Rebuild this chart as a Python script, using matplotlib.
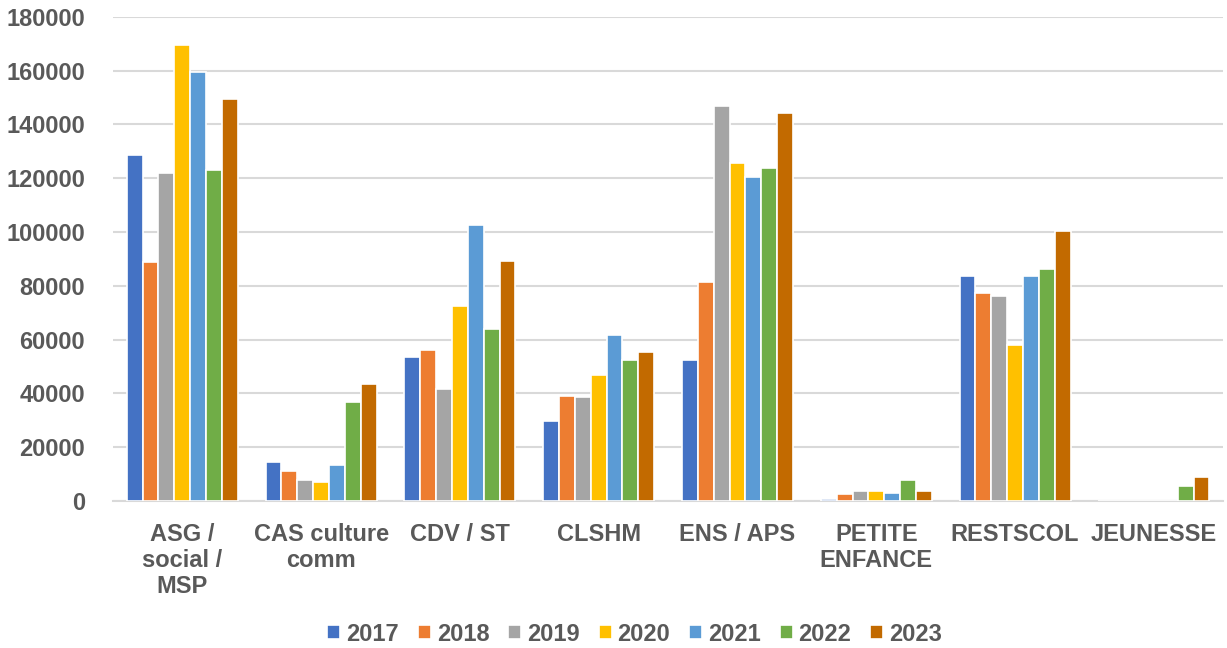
#!/usr/bin/env python3
"""
Histogramme groupé par service, années 2017-2023
"""
import numpy as np
import matplotlib.pyplot as plt

plt.rcParams['font.family'] = ['Liberation Sans', 'DejaVu Sans']
plt.rcParams['font.weight'] = 'bold'

categories = ['ASG /\nsocial /\nMSP', 'CAS culture\ncomm', 'CDV / ST', 'CLSHM',
              'ENS / APS', 'PETITE\nENFANCE', 'RESTSCOL', 'JEUNESSE']
years = ['2017', '2018', '2019', '2020', '2021', '2022', '2023']

v2017 = [128600, 14500, 53500, 29700, 52400, 700, 83700, 0]
v2018 = [88900, 11200, 56200, 39000, 81400, 2600, 77300, 0]
v2019 = [122000, 7800, 41600, 38700, 146900, 3500, 76200, 0]
v2020 = [169600, 7000, 72500, 46900, 125700, 3700, 58000, 0]
v2021 = [159500, 13400, 102600, 61700, 120500, 3000, 83700, 0]
v2022 = [123000, 36800, 64000, 52400, 123800, 7800, 86300, 5500]
v2023 = [149500, 43500, 89300, 55400, 144300, 3700, 100400, 9000]

series = [v2017, v2018, v2019, v2020, v2021, v2022, v2023]
colors = ['#4472C4', '#ED7D31', '#A5A5A5', '#FFC000', '#5B9BD5', '#70AD47', '#C26A00']

fig = plt.figure(figsize=(12.27, 6.48), dpi=100)
ax = fig.add_axes([0.092, 0.227, 0.905, 0.747])

x = np.arange(len(categories))
group = 0.8
w = group / len(series)
for i, (vals, col, yr) in enumerate(zip(series, colors, years)):
    ax.bar(x - group / 2 + w * (i + 0.5), vals, width=w, color=col,
           edgecolor='white', linewidth=1.2, label=yr, zorder=3)

ax.set_ylim(0, 180000)
ax.set_xlim(-0.5, len(categories) - 0.5)
ax.set_yticks(np.arange(0, 180001, 20000))
ax.set_yticklabels([str(v) for v in range(0, 180001, 20000)])
ax.set_xticks(x)
ax.set_xticklabels(categories, linespacing=1.15)

ax.grid(True, axis='y', color='#D9D9D9', linewidth=1.5, zorder=0)
for s in ['top', 'right', 'left']:
    ax.spines[s].set_visible(False)
ax.spines['bottom'].set_color('#D9D9D9')
ax.spines['bottom'].set_linewidth(1.5)
ax.tick_params(axis='both', length=0, labelsize=17, labelcolor='#595959')
ax.tick_params(axis='x', pad=16)
ax.tick_params(axis='y', pad=20)

ax.legend(loc='lower center', bbox_to_anchor=(0.47, -0.328), ncol=7, frameon=False,
          prop={'size': 17, 'weight': 'bold'}, labelcolor='#595959',
          handlelength=0.55, handleheight=0.55, handletextpad=0.25,
          columnspacing=0.8, borderaxespad=0.2)

plt.savefig('out.png', dpi=100)
